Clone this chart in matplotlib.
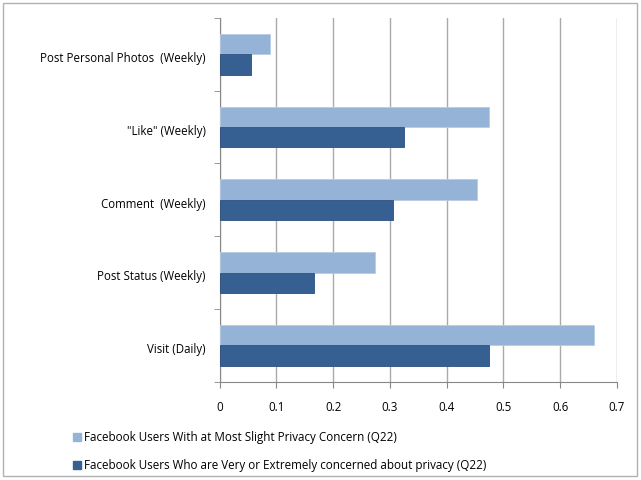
import numpy as np
import matplotlib.pyplot as plt
from matplotlib.patches import Rectangle

plt.rcParams['font.family'] = ['Open Sans', 'DejaVu Sans']

categories = ['Visit (Daily)', 'Post Status (Weekly)', 'Comment  (Weekly)',
              '"Like" (Weekly)', 'Post Personal Photos  (Weekly)']
slight = [0.659, 0.274, 0.453, 0.474, 0.089]
concerned = [0.475, 0.167, 0.306, 0.325, 0.055]
series_names = ['Facebook Users With at Most Slight Privacy Concern (Q22)',
                'Facebook Users Who are Very or Extremely concerned about privacy (Q22)']

light = '#95b3d7'
dark = '#366092'

fig = plt.figure(figsize=(6.41, 4.81), dpi=100)
ax = fig.add_axes([219.5 / 641, 1 - 382.7 / 481, (617 - 219.5) / 641, (382.7 - 19) / 481])

y = np.arange(len(categories))
h = 0.28
ax.barh(y + h / 2, slight, height=h, color=light, edgecolor='#b8cce4', linewidth=0.6, zorder=3)
ax.barh(y - h / 2, concerned, height=h, color=dark, edgecolor='#2c5080', linewidth=0.6, zorder=3)

ax.set_xlim(0, 0.7)
ax.set_ylim(-0.5, len(categories) - 0.5)
ax.set_xticks(np.arange(0, 0.71, 0.1))
ax.set_xticklabels(['0', '0.1', '0.2', '0.3', '0.4', '0.5', '0.6', '0.7'])
ax.set_yticks(y - 0.025)
ax.set_yticklabels(categories)
ax.set_yticks(np.arange(-0.5, len(categories), 1), minor=True)
ax.tick_params(axis='y', which='major', length=0, pad=10, labelsize=8.3)
ax.tick_params(axis='y', which='minor', length=4, color='#888888', direction='out')
ax.tick_params(axis='x', length=4, color='#888888', direction='out', pad=9, labelsize=8.3)
ax.grid(axis='x', color='#aaaaaa', linewidth=1, zorder=0)
for s in ['top', 'right']:
    ax.spines[s].set_visible(False)
for s in ['left', 'bottom']:
    ax.spines[s].set_color('#888888')

# legend
for i, (name, c) in enumerate(zip(series_names, [light, dark])):
    yy = 438 + i * 28
    fig.patches.append(Rectangle((73 / 641, 1 - (yy + 4) / 481), 8 / 641, 8 / 481,
                                 transform=fig.transFigure, color=c))
    fig.text(84 / 641, 1 - yy / 481, name, fontsize=8.4, va='center', ha='left')

# outer frame
fig.patches.append(Rectangle((3 / 641, 4 / 481), 634 / 641, 473 / 481, transform=fig.transFigure,
                             fill=False, edgecolor='#b0b0b0', linewidth=1))

fig.savefig('out.png', dpi=100)
